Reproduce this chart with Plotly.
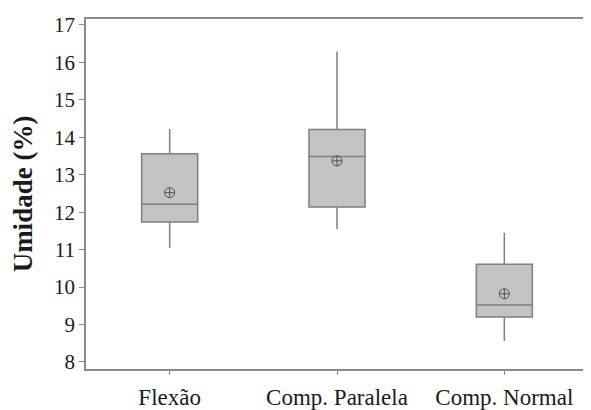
import plotly.graph_objects as go

categories = ["Flexão", "Comp. Paralela", "Comp. Normal"]
lower_whisker = [11.05, 11.55, 8.56]
q1 = [11.74, 12.14, 9.20]
median = [12.21, 13.49, 9.52]
q3 = [13.56, 14.21, 10.61]
upper_whisker = [14.22, 16.29, 11.45]
means = [12.52, 13.37, 9.82]
y_ticks = [8, 9, 10, 11, 12, 13, 14, 15, 16, 17]

fig = go.Figure()
fig.add_trace(go.Box(
    x=categories,
    q1=q1, median=median, q3=q3,
    lowerfence=lower_whisker, upperfence=upper_whisker,
    mean=means,
    boxmean=False,
    boxpoints=False,
    width=0.335,
    whiskerwidth=0,
    fillcolor="#c3c3c3",
    line=dict(color="#7f7f7f", width=1.5),
    showlegend=False,
    hoverinfo="skip",
))
fig.add_trace(go.Scatter(
    x=categories, y=means, mode="markers",
    marker=dict(symbol="circle-cross-open", size=10,
                color="#505050", line=dict(width=1, color="#505050")),
    showlegend=False, hoverinfo="skip",
))

# page body has an 8px margin, so the figure is offset by (8, 8) on screen
fig.update_layout(
    width=591, height=410,
    margin=dict(l=78, r=11, t=11, b=49),
    plot_bgcolor="white", paper_bgcolor="white",
    font=dict(family="Liberation Serif", color="#1a1a1a"),
    xaxis=dict(
        type="category", range=[-0.5, 2.5], automargin=False,
        showline=True, mirror=True, linecolor="#8a8a8a", linewidth=1.5,
        ticks="outside", ticklen=4, tickcolor="#8a8a8a", tickwidth=1,
        ticklabelstandoff=3,
        showgrid=False, zeroline=False,
        tickfont=dict(size=23, family="Liberation Serif", color="#1a1a1a"),
    ),
    yaxis=dict(
        range=[7.81, 17.16], automargin=False,
        tickvals=y_ticks,
        showline=True, mirror=True, linecolor="#8a8a8a", linewidth=1.5,
        ticks="outside", ticklen=5, tickcolor="#8a8a8a", tickwidth=1,
        showgrid=False, zeroline=False,
        tickfont=dict(size=21, family="Liberation Serif", color="#1a1a1a"),
        title=dict(text="<b>Umidade (%)</b>", standoff=18,
                   font=dict(size=27, family="Liberation Serif", color="#1a1a1a")),
    ),
)

fig.write_html("out.html")
